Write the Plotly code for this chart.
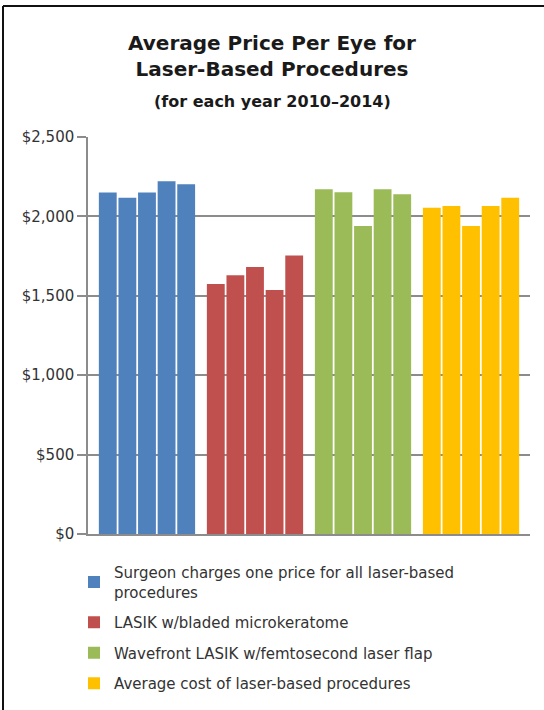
import plotly.graph_objects as go

# ---- data ----
categories = [
    "Surgeon charges one price for all laser-based<br>procedures",
    "LASIK w/bladed microkeratome",
    "Wavefront LASIK w/femtosecond laser flap",
    "Average cost of laser-based procedures",
]
years = ["2010", "2011", "2012", "2013", "2014"]
surgeon_one_price = [2150, 2118, 2150, 2222, 2203]
lasik_bladed = [1575, 1630, 1682, 1536, 1753]
wavefront_femto = [2171, 2152, 1940, 2171, 2140]
average_cost = [2055, 2066, 1940, 2066, 2118]
series = [surgeon_one_price, lasik_bladed, wavefront_femto, average_cost]
colors = ["#4F81BD", "#C0504D", "#9BBB59", "#FFC000"]
y_ticks = [0, 500, 1000, 1500, 2000, 2500]
y_tick_text = ["$" + f"{v:,}" for v in y_ticks]

W, H = 544, 710
L, R, T, B = 88, 14, 137, 176
pw, ph = W - L - R, H - T - B

def px_x(x):
    return (x - L) / pw

def px_y(y):
    return (H - B - y) / ph

fig = go.Figure()
for i, yr in enumerate(years):
    fig.add_trace(go.Bar(
        x=categories,
        y=[s[i] for s in series],
        name=yr,
        marker=dict(color=colors, line=dict(width=0)),
        showlegend=False,
    ))

for cat, col in zip(categories, colors):
    fig.add_trace(go.Scatter(
        x=[None], y=[None], mode="markers", name=cat, legendgroup=cat,
        marker=dict(symbol="square", size=12, color=col, line=dict(width=0)),
    ))

grid = "#8c8c8c"
fig.update_layout(
    width=W, height=H,
    margin=dict(l=L, r=R, t=T, b=B, pad=0, autoexpand=False),
    paper_bgcolor="white", plot_bgcolor="white",
    barmode="group", bargap=0.0926, bargroupgap=0.09,
    font=dict(family="DejaVu Sans", size=15, color="#333333"),
    title=dict(
        text="Average Price Per Eye for<br>Laser-Based Procedures",
        font=dict(family="DejaVu Sans", size=20, color="#1a1a1a", weight="bold"),
        x=272 / W, xref="container", xanchor="center",
        y=1 - 50 / H, yref="container", yanchor="top",
    ),
    showlegend=True,
    legend=dict(
        x=px_x(74), y=px_y(556), xanchor="left", yanchor="top",
        font=dict(family="DejaVu Sans", size=15, color="#333333"),
        tracegroupgap=8, bgcolor="rgba(0,0,0,0)", traceorder="grouped",
    ),
    xaxis=dict(
        range=[-0.546, 3.546], showticklabels=False, ticks="", showgrid=False,
        showline=True, linecolor=grid, linewidth=1.5, zeroline=False,
    ),
    yaxis=dict(
        range=[0, 2500], tickmode="array", tickvals=y_ticks, ticktext=y_tick_text,
        showgrid=True, gridcolor=grid, gridwidth=1.5,
        showline=True, linecolor=grid, linewidth=1.5,
        ticks="outside", ticklen=9, tickcolor=grid, tickwidth=1.5,
        zeroline=False, tickfont=dict(size=15, color="#333333"),
    ),
)

fig.add_annotation(
    text="<b>(for each year 2010–2014)</b>", xref="paper", yref="paper",
    x=px_x(272), y=px_y(102), xanchor="center", yanchor="middle",
    showarrow=False, font=dict(family="DejaVu Sans", size=16, color="#1a1a1a"),
)

# frame lines (top and left)
fig.add_shape(type="line", xref="paper", yref="paper",
              x0=px_x(3), x1=px_x(W + 5), y0=px_y(6), y1=px_y(6),
              line=dict(color="#111111", width=2))
fig.add_shape(type="line", xref="paper", yref="paper",
              x0=px_x(3), x1=px_x(3), y0=px_y(6), y1=px_y(H + 5),
              line=dict(color="#111111", width=2))

fig.write_html("out.html", config={"displayModeBar": False},
               post_script="document.body.style.margin='0';")
